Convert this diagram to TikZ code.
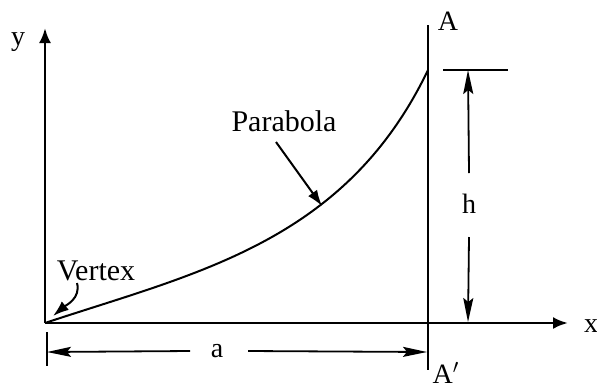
\documentclass[tikz,border=0pt]{standalone}
\usepackage{fontspec}
\setmainfont{Liberation Serif}
\usepackage{tikz}
\usetikzlibrary{arrows.meta,positioning}

\begin{document}
\begin{tikzpicture}[x=0.5pt, y=0.5pt,
  axis/.style={line width=1.4pt, -{Latex[length=7.5pt,width=6pt]}},
  dimline/.style={line width=0.9pt, -{Stealth[length=12pt,width=5pt,inset=2pt]}},
  pointer/.style={line width=1pt, -{Latex[length=8pt,width=5.5pt]}},
  lbl/.style={font=\fontsize{14}{16}\selectfont, inner sep=0pt},
  bigLbl/.style={font=\fontsize{15}{17}\selectfont, inner sep=0pt}]

\useasboundingbox (0,0) rectangle (597,387);

% key points
\coordinate (O) at (45,64);
\coordinate (ytip) at (45,359);
\coordinate (xtip) at (568,64);
\coordinate (Atop) at (428,362);
\coordinate (Abot) at (428,17);
\coordinate (P) at (428,317);

% axes + labels
\draw[axis] (O) -- (ytip);
\draw[axis] (O) -- (xtip);
\node[lbl] (ylab) at (18,345) {y};
\node[lbl] (xlab) at (591,61) {x};

% line A-A'
\draw[line width=1pt] (Atop) -- (Abot);
\node[lbl] (A) at (448,366) {A};
\node[lbl, anchor=south] (Ap) at (446,3) {A$'$};

% the curve
\draw[line width=1pt] (O) .. controls (195,114) and (345,144) .. (P);
\node[bigLbl, anchor=south] (parab) at (284,255) {Parabola};
\coordinate (ptip) at (322,181);
\draw[pointer] ([xshift=-4pt,yshift=-5pt]parab.south) -- (ptip);
\node[bigLbl, anchor=south] (vtx) at (96,106) {Vertex};
\coordinate (vtip) at (53,71);
\draw[pointer] ([xshift=-9.5pt,yshift=-1pt]vtx.south) to[out=-75,in=40] (vtip);

% height h
\draw[line width=1pt] (443,317) -- (508,317);
\coordinate (htop) at (468,317);
\coordinate (hbot) at (468,65);
\node[lbl] (h) at (469,183) {h};
\draw[dimline] ([yshift=15.5pt]h.center) -- (htop);
\draw[dimline] ([yshift=-16.5pt]h.center) -- (hbot);

% span a
\draw[line width=1pt] (47,55) -- (47,21);
\coordinate (aL) at (47,35);
\coordinate (aR) at (427,35);
\node[lbl] (a) at (217,36) {a};
\draw[dimline] ([xshift=-13.5pt]a.center) -- (aL);
\draw[dimline] ([xshift=15.5pt]a.center) -- (aR);
\end{tikzpicture}
\end{document}
